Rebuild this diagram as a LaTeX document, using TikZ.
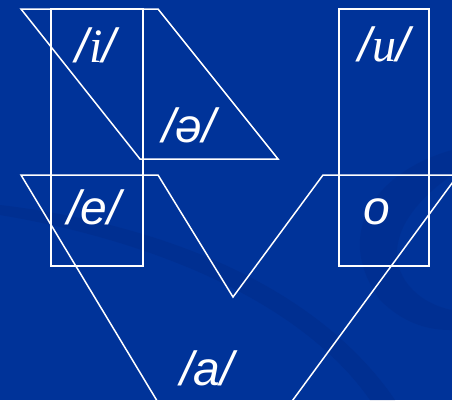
\documentclass[tikz,border=0pt]{standalone}
\usepackage{fontspec}
\setmainfont{Liberation Sans}
\newfontfamily\serifit{Liberation Serif}[ItalicFont={Liberation Serif Italic}]
\usetikzlibrary{positioning}
\definecolor{slideblue}{RGB}{0, 51, 153}
\definecolor{swooshblue}{RGB}{0, 45, 140}
\tikzset{
    frame/.style ={draw=white, line width=1.5pt, line join=miter},
    vowel/.style ={text=white, font=\fontsize{48}{48}\selectfont\itshape,
                   inner sep=0pt, anchor=center}
}
\newcommand{\ph}[1]{/{\serifit\itshape #1}/}

\begin{document}
\begin{tikzpicture}[x=1pt, y=-1pt]
  \fill[slideblue] (0,0) rectangle (452,400);
  \useasboundingbox (0,0) rectangle (452,400);
  \begin{scope}
    \clip (0,0) rectangle (452,400);
    % background swoosh
    \fill[swooshblue, opacity=0.6] (0,215) .. controls (150,240) and (300,300) .. (370,400)
          -- (395,400) .. controls (320,290) and (170,225) .. (0,205) -- cycle;
    \fill[swooshblue, opacity=0.5] (452,150) .. controls (380,170) and (330,230) .. (380,300)
          .. controls (410,330) and (440,330) .. (452,330) -- (452,310)
          .. controls (400,300) and (360,240) .. (452,175) -- cycle;

    % front/central wedge
    \draw[frame] (21,9) -- (158,9) -- (278,159) -- (140,159) -- cycle;
    % open vowel wedge
    \draw[frame] (218,502) -- (21,175) -- (158,175) -- (233,297)
                 -- (323,175) -- (458,175) -- cycle;
    % columns
    \draw[frame] (51,9) rectangle (143,266);
    \draw[frame] (339,9) rectangle (429,266);
  \end{scope}

  \node[vowel] (vi)     at (96,45)   {\ph{i}};
  \node[vowel] (vschwa) at (189,125) {/ə/};
  \node[vowel] (ve)     at (94,207)  {/e/};
  \node[vowel] (vu)     at (384,44)  {\ph{u}};
  \node[vowel] (vo)     at (377,212) {o};
  \node[vowel] (va)     at (207,368) {/a/};
\end{tikzpicture}
\end{document}
